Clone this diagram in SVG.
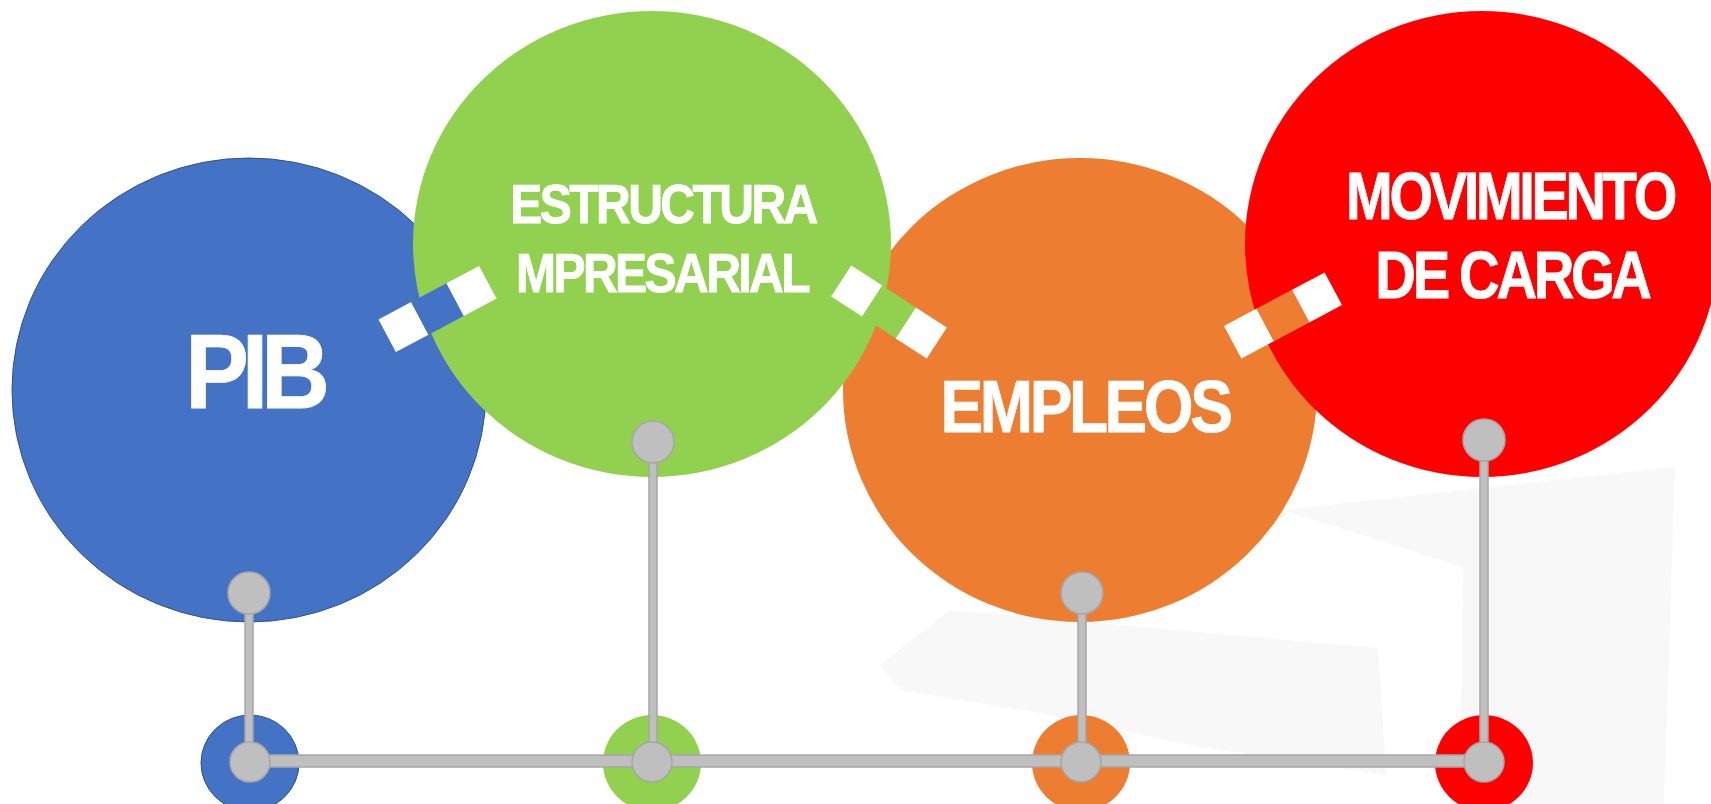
<svg xmlns="http://www.w3.org/2000/svg" width="1711" height="804" viewBox="0 0 1711 804">
<style>
.lbl{font-family:"Liberation Sans",Arial,sans-serif;font-weight:bold;fill:#ffffff;text-anchor:middle;stroke:#ffffff;stroke-width:0.8;font-kerning:none;text-rendering:geometricPrecision}
.dot{fill:#BFBFBF;stroke:#A6A6A6;stroke-width:1.5}
.bar{fill:#BFBFBF;stroke:#A6A6A6;stroke-width:1.5}
.sq{fill:#ffffff}
.bg{fill:#F8F8F8}
</style>
<rect x="0" y="0" width="1711" height="804" fill="#ffffff"/>
<g id="background">
<polygon class="bg" points="880,665 950,610 1378,648 1386,775 1200,747 1040,713 900,690"/>
<polygon class="bg" points="1283,510 1675,467 1664,804 1460,804 1463,567"/>
</g>
<g id="node-pib">
<ellipse cx="249" cy="390" rx="237" ry="232" fill="#4472C4" stroke="#2F528F" stroke-width="1"/>
<text class="lbl" transform="translate(254,408) scale(0.9,1)" font-size="106" letter-spacing="-8">PIB</text>
</g>
<g id="node-empleos">
<ellipse cx="1080" cy="390" rx="237" ry="232" fill="#ED7D31"/>
<text class="lbl" transform="translate(1085,432) scale(0.865,1)" font-size="74" letter-spacing="-4">EMPLEOS</text>
</g>
<g id="node-carga">
<ellipse cx="1482" cy="244" rx="237" ry="233" fill="#FF0000"/>
<text class="lbl" transform="translate(1510,219) scale(0.837,1)" font-size="67" letter-spacing="-4">MOVIMIENTO</text>
<text class="lbl" transform="translate(1512,298) scale(0.84,1)" font-size="67" letter-spacing="-4">DE CARGA</text>
</g>
<g id="node-estructura">
<ellipse cx="652" cy="244" rx="239" ry="233" fill="#92D050"/>
<text class="lbl" transform="translate(663,223) scale(0.875,1)" font-size="55" letter-spacing="-3">ESTRUCTURA</text>
<text class="lbl" transform="translate(662,292) scale(0.875,1)" font-size="55" letter-spacing="-3">MPRESARIAL</text>
</g>
<g id="links">
<g transform="translate(437.5,309) rotate(-28)">
<rect class="sq" x="-57" y="-18.5" width="37" height="37"/>
<rect x="-20" y="-18.5" width="40" height="37" fill="#4472C4"/>
<rect class="sq" x="20" y="-18.5" width="37" height="37"/>
</g>
<g transform="translate(889,312) rotate(33)">
<rect class="sq" x="-57" y="-18.5" width="37" height="37"/>
<rect x="-20" y="-18.5" width="40" height="37" fill="#92D050"/>
<rect class="sq" x="20" y="-18.5" width="37" height="37"/>
</g>
<g transform="translate(1283,315.5) rotate(-28)">
<rect class="sq" x="-57" y="-18.5" width="37" height="37"/>
<rect x="-20" y="-18.5" width="40" height="37" fill="#ED7D31"/>
<rect class="sq" x="20" y="-18.5" width="37" height="37"/>
</g>
</g>
<g id="timeline-nodes">
<ellipse cx="250" cy="763" rx="49" ry="48" fill="#4472C4" stroke="#2F528F" stroke-width="1"/>
<ellipse cx="652" cy="763" rx="49" ry="48" fill="#92D050"/>
<ellipse cx="1081" cy="763" rx="49" ry="48" fill="#ED7D31"/>
<ellipse cx="1484" cy="763" rx="49" ry="48" fill="#FF0000"/>
</g>
<g id="connectors">
<rect class="bar" x="250" y="755" width="1247" height="12"/>
<rect class="bar" x="245" y="593" width="8" height="169"/>
<rect class="bar" x="649" y="442" width="8" height="320"/>
<rect class="bar" x="1078" y="593" width="8" height="169"/>
<rect class="bar" x="1480" y="440" width="8" height="322"/>
<circle class="dot" cx="249" cy="593" r="21"/>
<circle class="dot" cx="653" cy="442" r="21"/>
<circle class="dot" cx="1082" cy="593" r="21"/>
<circle class="dot" cx="1484" cy="440" r="21"/>
<circle class="dot" cx="250" cy="762" r="20"/>
<circle class="dot" cx="652" cy="762" r="20"/>
<circle class="dot" cx="1081" cy="762" r="20"/>
<circle class="dot" cx="1484" cy="762" r="20"/>
</g>
</svg>
